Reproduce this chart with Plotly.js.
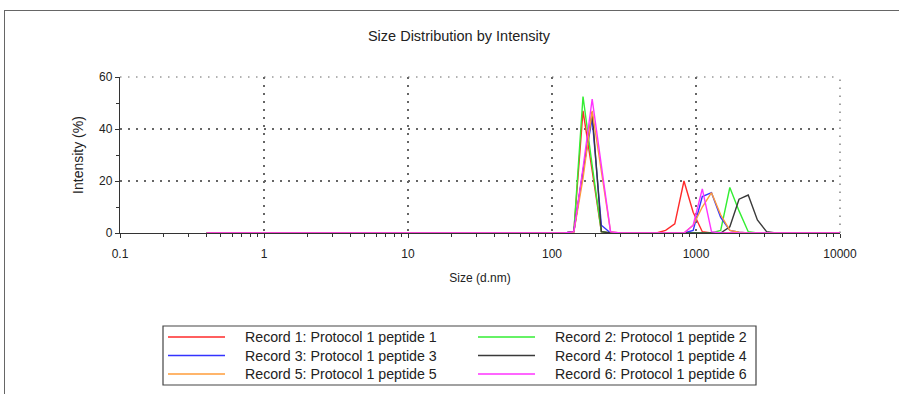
<!DOCTYPE html>
<html><head><meta charset="utf-8">
<script src="https://cdn.plot.ly/plotly-3.0.1.min.js"></script>
<style>
html,body{margin:0;padding:0;background:#fff;overflow:hidden;}
#frame{position:absolute;left:4px;top:10px;width:1000px;height:1000px;border:1.5px solid #666;box-sizing:border-box;}
#chart{position:absolute;left:0;top:0;width:899px;height:394px;}
</style></head><body>
<div id="frame"></div>
<div id="chart"></div>
<script>
// Size bins (d.nm)
const sizes = [
  0.4000, 0.4632, 0.5365, 0.6213, 0.7195, 0.8332, 0.9649, 1.117, 1.294, 1.499,
  1.736, 2.010, 2.328, 2.696, 3.122, 3.615, 4.187, 4.849, 5.615, 6.503,
  7.531, 8.721, 10.10, 11.70, 13.54, 15.69, 18.17, 21.04, 24.36, 28.21,
  32.67, 37.84, 43.82, 50.75, 58.77, 68.06, 78.82, 91.28, 105.7, 122.4,
  141.8, 164.2, 190.1, 220.2, 255.0, 295.3, 342.0, 396.1, 458.7, 531.2,
  615.1, 712.4, 825.0, 955.4, 1106, 1281, 1484, 1718, 1990, 2305,
  2669, 3091, 3580, 4145, 4801, 5560, 6439, 7456, 8635, 10000
];
const record1 = [
  0,0,0,0,0,0,0,0,0,0, 0,0,0,0,0,0,0,0,0,0, 0,0,0,0,0,0,0,0,0,0, 0,0,0,0,0,0,0,0,0,0,
  0.5,47,24,0.5,0,0,0,0,0,0,
  1,3.5,20,8,0.5,0,0,0,0,0,
  0,0,0,0,0,0,0,0,0,0
];
const record2 = [
  0,0,0,0,0,0,0,0,0,0, 0,0,0,0,0,0,0,0,0,0, 0,0,0,0,0,0,0,0,0,0, 0,0,0,0,0,0,0,0,0,0,
  0.5,52.5,26,0.5,0,0,0,0,0,0,
  0,0,0,0,0,0,1,17.5,8.5,0.5,
  0,0,0,0,0,0,0,0,0,0
];
const record3 = [
  0,0,0,0,0,0,0,0,0,0, 0,0,0,0,0,0,0,0,0,0, 0,0,0,0,0,0,0,0,0,0, 0,0,0,0,0,0,0,0,0,0,
  0.5,24,44,3,0,0,0,0,0,0,
  0,0,0,1,14,15.5,6,1,0.3,0,
  0,0,0,0,0,0,0,0,0,0
];
const record4 = [
  0,0,0,0,0,0,0,0,0,0, 0,0,0,0,0,0,0,0,0,0, 0,0,0,0,0,0,0,0,0,0, 0,0,0,0,0,0,0,0,0,0,
  0.5,23,46.5,0.5,0,0,0,0,0,0,
  0,0,0,0,0,0,0,2.4,13,14.6,
  5,0.5,0,0,0,0,0,0,0,0
];
const record5 = [
  0,0,0,0,0,0,0,0,0,0, 0,0,0,0,0,0,0,0,0,0, 0,0,0,0,0,0,0,0,0,0, 0,0,0,0,0,0,0,0,0,0,
  0.3,21,47,24,0.5,0,0,0,0,0,
  0,0,0,3,10,15.5,7,1,0.3,0,
  0,0,0,0,0,0,0,0,0,0
];
const record6 = [
  0,0,0,0,0,0,0,0,0,0, 0,0,0,0,0,0,0,0,0,0, 0,0,0,0,0,0,0,0,0,0, 0,0,0,0,0,0,0,0,0,0,
  0.5,25,51.5,25,0.5,0,0,0,0,0,
  0,0,0,3,17,0.5,0,0,0,0,
  0,0,0,0,0,0,0,0,0,0
];
const names = [
  "Record 1: Protocol 1 peptide 1",
  "Record 2: Protocol 1 peptide 2",
  "Record 3: Protocol 1 peptide 3",
  "Record 4: Protocol 1 peptide 4",
  "Record 5: Protocol 1 peptide 5",
  "Record 6: Protocol 1 peptide 6"
];
const colors = ["#ff2a2a", "#33ee33", "#3333ff", "#3a3a3a", "#ff9c3a", "#ff33ff"];
const series = [record1, record2, record3, record4, record5, record6];
const xTickVals = [0.1, 1, 10, 100, 1000, 10000];
const xTickText = ["0.1", "1", "10", "100", "1000", "10000"];
const yTickVals = [0, 20, 40, 60];

const minorX = [];
for (let e = -1; e < 4; e++) for (let m = 2; m <= 9; m++) minorX.push(m * Math.pow(10, e));

const traces = series.map((y, i) => ({
  type: "scatter", mode: "lines", x: sizes, y: y, name: names[i],
  line: { color: colors[i], width: 1.4 }, cliponaxis: false, showlegend: false
}));

// plot area geometry (px) used to place the boxed legend below the plot
const M = { l: 120, r: 59, t: 77, b: 161 };
const PW = 899 - M.l - M.r, PH = 394 - M.t - M.b;
const px = v => (v - M.l) / PW;
const py = v => (394 - M.b - v) / PH;

const font = { family: "Liberation Sans, Arial, sans-serif", size: 12, color: "#222" };
const dots = "1.5px,6.5px";

const shapes = [
  { type: "line", xref: "paper", yref: "paper", x0: 0, x1: 1, y0: 1, y1: 1, layer: "below",
    line: { color: "#666", width: 1.2, dash: dots } },
  { type: "line", xref: "paper", yref: "paper", x0: 1, x1: 1, y0: 0, y1: 1, layer: "below",
    line: { color: "#666", width: 1.2, dash: dots } },
  { type: "rect", xref: "paper", yref: "paper", x0: px(163), x1: px(756), y0: py(326), y1: py(385),
    fillcolor: "#fff", line: { color: "#444", width: 1.2 } }
];
const annotations = [];
const colX = [168, 478], rowY = [337, 355.5, 374];
names.forEach((n, i) => {
  const c = i % 2, r = Math.floor(i / 2);
  shapes.push({ type: "line", xref: "paper", yref: "paper",
    x0: px(colX[c]), x1: px(colX[c] + 57), y0: py(rowY[r]), y1: py(rowY[r]),
    line: { color: colors[i], width: 1.6 } });
  annotations.push({ xref: "paper", yref: "paper", x: px(colX[c] + 75), y: py(rowY[r]),
    xanchor: "left", yanchor: "middle", showarrow: false, text: n,
    font: { family: font.family, size: 14.2, color: "#222" } });
});

const layout = {
  width: 899, height: 394,
  margin: { l: M.l, r: M.r, t: M.t, b: M.b, autoexpand: false },
  paper_bgcolor: "rgba(0,0,0,0)", plot_bgcolor: "rgba(0,0,0,0)",
  font: font,
  showlegend: false,
  title: { text: "Size Distribution by Intensity", x: 459 / 899, xref: "container", xanchor: "center",
           y: 1 - 36 / 394, yref: "container", yanchor: "middle",
           font: { family: font.family, size: 14.5, color: "#222" } },
  xaxis: {
    type: "log", range: [-1, 4], tickvals: xTickVals, ticktext: xTickText,
    showline: true, linecolor: "#333", linewidth: 1.2, layer: "below traces",
    ticks: "outside", ticklen: 4, tickcolor: "#333", tickwidth: 1, ticklabelstandoff: 5,
    showgrid: true, gridcolor: "#666", gridwidth: 1.2, griddash: dots,
    zeroline: false,
    minor: { tickvals: minorX, ticks: "outside", ticklen: 3, tickcolor: "#333", showgrid: false },
    title: { text: "Size (d.nm)", standoff: 14, font: font },
    tickfont: font
  },
  yaxis: {
    range: [0, 60], tickvals: yTickVals,
    showline: true, linecolor: "#333", linewidth: 1.2, layer: "below traces",
    ticks: "outside", ticklen: 4, tickcolor: "#333", tickwidth: 1,
    showgrid: true, gridcolor: "#666", gridwidth: 1.2, griddash: dots,
    zeroline: false,
    minor: { tickvals: [10, 30, 50], ticks: "outside", ticklen: 3, tickcolor: "#333", showgrid: false },
    title: { text: "Intensity (%)", standoff: 12, font: { family: font.family, size: 14, color: "#222" } },
    tickfont: font
  },
  shapes: shapes,
  annotations: annotations
};
Plotly.newPlot("chart", traces, layout, { displayModeBar: false, staticPlot: true });
</script>
</body></html>
